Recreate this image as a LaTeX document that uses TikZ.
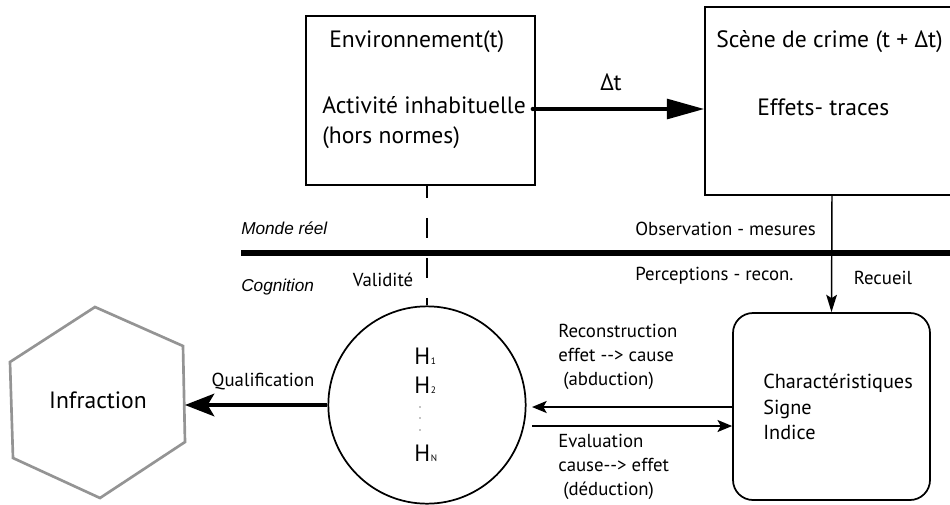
\documentclass[tikz,border=0pt]{standalone}
\usepackage{fontspec}
\setmainfont{PT Sans}
\newfontfamily\labelfont{Liberation Sans}
\usetikzlibrary{arrows.meta,fit,calc}
\begin{document}
\begin{tikzpicture}[x=0.75pt,y=-0.75pt,
  frame/.style={draw, line width=1.3pt, inner sep=0pt},
  bigtxt/.style={font=\fontsize{17.7}{22.5}\selectfont, inner sep=0pt, anchor=west},
  midtxt/.style={font=\fontsize{15.2}{19}\selectfont, inner sep=0pt, anchor=west, align=left},
  smalltxt/.style={font=\fontsize{14.1}{18}\selectfont, inner sep=0pt, anchor=west, align=left},
  worldtxt/.style={font=\labelfont\itshape\fontsize{12.9}{15}\selectfont, inner sep=0pt, anchor=west},
  heavyarrow/.style={line width=2.3pt, -{Triangle[length=28pt,width=15pt]}},
  qualarrow/.style={line width=2.3pt, -{Stealth[length=22pt,width=17pt,inset=5pt]}},
  thinarrow/.style={line width=1.5pt, -{Stealth[length=11pt,width=9pt,inset=2.5pt]}},
  droparrow/.style={line width=1.1pt, -{Stealth[length=13pt,width=8pt,inset=2.5pt]}}]
\useasboundingbox (0,0) rectangle (950,504);

% boxes of the real world
\node[frame, fit={(306,16) (535,185)}] (env) {};
\node[frame, fit={(705,7) (959,195)}] (scene) {};
\node[bigtxt] (envtitle) at (329,42) {Environnement(t)};
\node[bigtxt, align=left] (envact) at (322,123) {Activité inhabituelle\\(hors normes)};
\node[bigtxt] (scenetitle) at (716,42) {Scène de crime (t + Δt)};
\node[bigtxt] (scenetr) at (757,107) {Effets- traces};

% time step arrow
\coordinate (dty) at (0,109);
\fill ($(env.east |- dty)+(-3,0)$) circle (2.2);
\draw[heavyarrow] (env.east |- dty) -- (scene.west |- dty);
\node[bigtxt, anchor=center] (dtlabel) at (611,82) {Δt};

% separation between real world and cognition
\draw[line width=3.8pt] (241,253) -- (952,253);
\node[worldtxt] (monde) at (241,228) {Monde réel};
\node[worldtxt] (cogn) at (241,287) {Cognition};
\node[smalltxt] (obs) at (635,229) {Observation - mesures};
\node[smalltxt] (perc) at (635,276) {Perceptions - recon.};
\node[smalltxt, anchor=center] (recueil) at (883,278) {Recueil};
\node[smalltxt, anchor=center] (valid) at (383,280) {Validité};

% hypotheses
\node[draw, circle, line width=1.3pt, minimum size=148pt, inner sep=0pt] (hypo) at (427,405) {};
\node[bigtxt] (h1) at (414,356) {H\kern0.5pt{\fontsize{7}{7}\selectfont 1}};
\node[bigtxt] (h2) at (414,385) {H\kern0.5pt{\fontsize{7}{7}\selectfont 2}};
\node[bigtxt] (hn) at (414,453) {H\kern0.5pt{\fontsize{7}{7}\selectfont N}};
\foreach \yy in {407,418,430} \fill (420,\yy) circle (0.7);

% validity link
\draw[line width=1.3pt, dash pattern=on 15pt off 15pt, dash phase=6pt] (hypo.north |- env.south) -- (hypo.north);

% collected characteristics
\node[frame, rounded corners=15pt, fit={(733,313) (930,500)}] (carac) {};
\node[midtxt] (caractxt) at (763,407) {Charactéristiques\\Signe\\Indice};
\draw[droparrow] (scene.south) -- (carac.north);

% reasoning arrows
\coordinate (upy) at (0,407);
\coordinate (dny) at (0,426);
\coordinate (tipx) at (532,0);
\draw[thinarrow] (carac.west |- upy) -- (tipx |- upy);
\draw[thinarrow] (tipx |- dny) -- (carac.west |- dny);
\node[smalltxt] (reco) at (558,357) {Reconstruction\\effet -{}-> cause\\\ (abduction)};
\node[smalltxt] (eval) at (558,467) {Evaluation\\cause-{}-> effet\\\ (déduction)};

% offence
\draw[line width=2pt, draw=black!42, line join=miter]
  (95,307) -- (183,346) -- (185,442) -- (100,498) -- (13,458) -- (10,362) -- cycle;
\coordinate (infrR) at (185,0);
\node[bigtxt, anchor=center] (infr) at (98,400) {Infraction};
\draw[qualarrow] (hypo.west) -- (hypo.west -| infrR);
\node[smalltxt, anchor=center] (qual) at (263,382) {Qualification};
\end{tikzpicture}
\end{document}
